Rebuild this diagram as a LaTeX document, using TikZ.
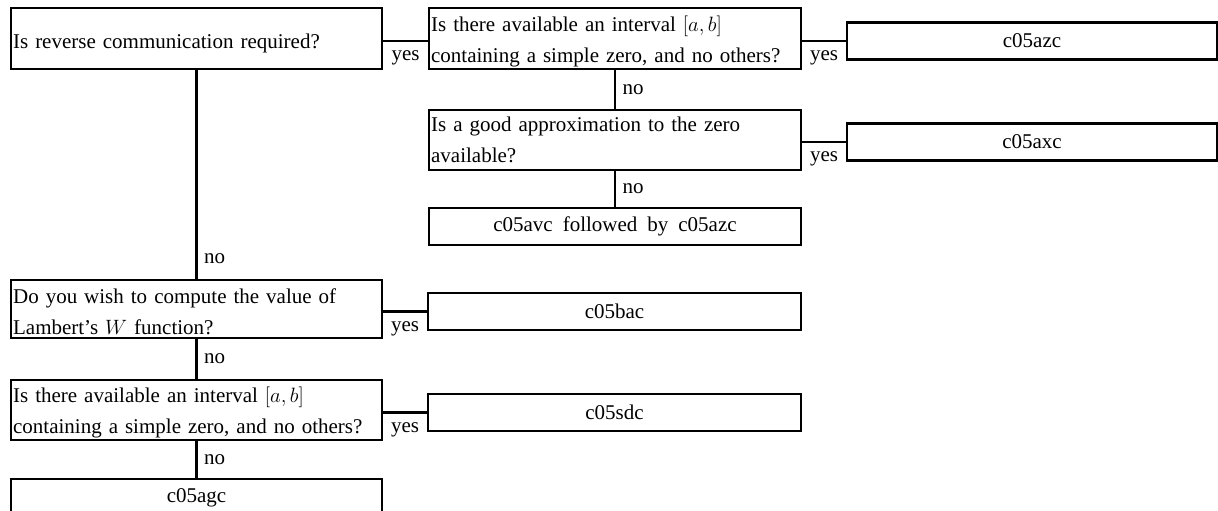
\documentclass[tikz,border=0pt]{standalone}
\usepackage{fontspec}
\setmainfont{Liberation Serif}[WordSpace=1.9]
\usetikzlibrary{calc}
\tikzset{
  qbox/.style={draw, line width=2.2pt, inner sep=0pt, minimum width=371pt, minimum height=#1},
  qtext/.style={anchor=west, inner sep=0pt, align=left, text width=368pt,
    font=\fontsize{21}{31}\selectfont},
  rbox/.style={draw, line width=2.2pt, align=center, inner sep=0pt,
    minimum width=#1, minimum height=37pt, font=\fontsize{21}{31}\selectfont},
  conn/.style={line width=2.2pt},
  lab/.style={inner sep=0pt, font=\fontsize{21}{31}\selectfont},
  yeslab/.style={lab, midway, anchor=base, yshift=-19.5pt},
  nolab/.style={lab, anchor=west, xshift=6.5pt}
}
\begin{document}
\begin{tikzpicture}[x=1pt,y=-1pt]
\useasboundingbox (0,0) rectangle (1218,511);
\fill[white] (0,0) rectangle (1218,511);
% question boxes
\node[qbox=61pt] (B1) at (196.5,38.5) {};
\node[qtext] (B1t) at ([xshift=3pt,yshift=-5pt]B1.west) {Is reverse communication required?};
\node[qbox=61pt, minimum width=372pt] (B2) at (615,38.5) {};
\node[qtext] (B2t) at ([xshift=3pt,yshift=-2.5pt]B2.west) {Is there available an interval $[a,b]$\\containing a simple zero, and no others?};
\node[qbox=60pt, minimum width=372pt] (B3) at (615,140) {};
\node[qtext] (B3t) at ([xshift=3pt,yshift=0pt]B3.west) {Is a good approximation to the zero\\available?};
\node[qbox=58pt] (B4) at (196.5,309) {};
\node[qtext] (B4t) at ([xshift=3pt,yshift=-2.5pt]B4.west) {Do you wish to compute the value of\\Lambert's $W$ function?};
\node[qbox=60pt] (B5) at (196.5,410) {};
\node[qtext] (B5t) at ([xshift=3pt,yshift=-2.5pt]B5.west) {Is there available an interval $[a,b]$\\containing a simple zero, and no others?};
% result boxes
\node[rbox=370pt] (R1) at (1032,41) {c05azc};
\node[rbox=370pt] (R2) at (1032,142) {c05axc};
\node[rbox=372pt] (R3) at (615,226.5) {c05avc followed by c05azc};
\node[rbox=373pt] (R4) at (614.5,311.5) {c05bac};
\node[rbox=373pt] (R5) at (614.5,412.5) {c05sdc};
\node[rbox=371pt] (R6) at (196.5,497.5) {c05agc};
% yes connectors
\draw[conn] (B1.east |- R1.west) -- (B2.west |- R1.west) node[yeslab] {yes};
\draw[conn] (B2.east |- R1.west) -- (R1.west) node[yeslab] {yes};
\draw[conn] (B3.east |- R2.west) -- (R2.west) node[yeslab] {yes};
\draw[conn] (B4.east |- R4.west) -- (R4.west) node[yeslab] {yes};
\draw[conn] (B5.east |- R5.west) -- (R5.west) node[yeslab] {yes};
% no connectors
\draw[conn] (B2.south) -- (B3.north) node[nolab, midway] {no};
\draw[conn] (B3.south) -- (R3.north) node[nolab, midway] {no};
\draw[conn] (B1.south) -- (B4.north) node[nolab, pos=0.905] {no};
\draw[conn] (B4.south) -- (B5.north) node[nolab, midway] {no};
\draw[conn] (B5.south) -- (R6.north) node[nolab, midway] {no};
\end{tikzpicture}
\end{document}
